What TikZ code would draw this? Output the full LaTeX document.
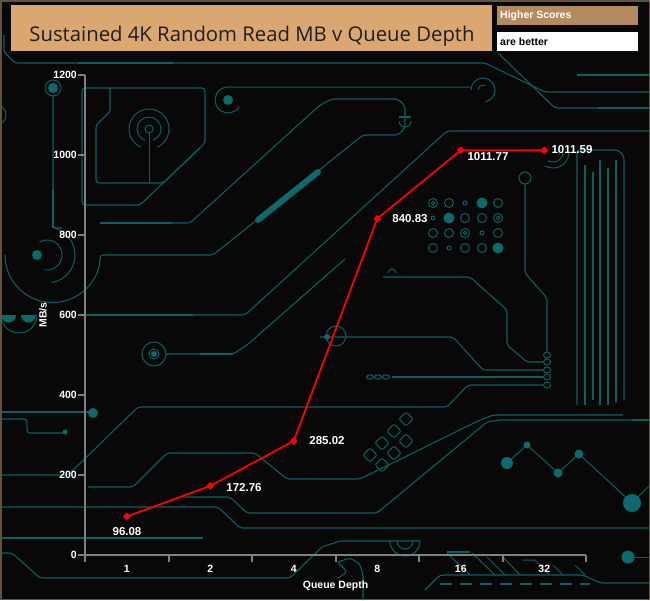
\documentclass[tikz,border=0pt]{standalone}
\usepackage{fontspec}
\setmainfont{Liberation Sans}
\newfontfamily\titlefont{Open Sans}
\usetikzlibrary{shapes.geometric}
\definecolor{bgc}{RGB}{8,8,8}
\definecolor{trc}{RGB}{15,94,96}
\definecolor{trf}{RGB}{13,106,108}
\definecolor{titlebg}{RGB}{219,167,112}
\definecolor{legbg}{RGB}{180,138,96}
\definecolor{axisc}{RGB}{128,128,128}
\definecolor{framec}{RGB}{100,82,62}
\definecolor{titletext}{RGB}{30,30,30}
\begin{document}
\begin{tikzpicture}[x=1pt,y=-1pt,
  tr/.style={draw=trc,line width=1.1pt,rounded corners=3pt},
  trk/.style={draw=trc,line width=2.5pt},
  ring/.style={draw=trc,line width=1pt},
  ticklbl/.style={text=white,font=\bfseries\fontsize{10.5}{12}\selectfont,inner sep=0pt},
  vallbl/.style={text=white,font=\bfseries\fontsize{11.5}{13}\selectfont,inner sep=0pt},
  axisline/.style={draw=axisc,line width=2.4pt},
  tickline/.style={draw=axisc,line width=2pt},
  datapt/.style={diamond,fill=red,inner sep=0pt,minimum width=8pt,minimum height=8pt},
  dataline/.style={draw=red,line width=1.8pt}]
\fill[bgc] (0,0) rectangle (650,600);
\useasboundingbox (0,0) rectangle (650,600);

% ---------------- circuit background ----------------
\draw[tr] (4,35)--(4,52)--(15,63)--(485,63)--(545,92)--(650,92);
\draw[trk,line width=2pt] (78,63)--(173,63);
\draw[tr] (498,53)--(555,108)--(650,108);
\draw[trk] (598,108)--(650,108);
\draw[tr] (577,75)--(650,75);
\fill[trf] (228,100) circle[radius=5];
\draw[ring] (228,100) ++(30:13) arc[start angle=30,end angle=270,radius=13] -- (470,87);
\draw[ring] (483,90) ++(180:12) arc[start angle=180,end angle=440,radius=12];
\draw[ring] (483,90) ++(180:5) arc[start angle=180,end angle=300,radius=5];
\draw[ring] (53,88) circle[radius=8];
\fill[trf] (53,88) circle[radius=5];
\draw[tr] (53,96)--(53,228)--(62,228);
\draw[trk,line width=2pt] (53,190)--(53,228);
\fill[trf] (37,255) circle[radius=5];
\draw[ring] (47,255) ++(-80:28) arc[start angle=-80,end angle=80,radius=28];
\draw[ring] (47,255) ++(-120:15) arc[start angle=-120,end angle=100,radius=15];
\draw[tr] (5,255) arc[start angle=180,end angle=0,radius=47.5] -- (213,255) -- (363,135) -- (398,135) -- (405,128) -- (405,106) -- (398,99) -- (332,99) -- (320,105) -- (190,223) -- (100,223);
\draw[trk,line width=2pt] (100,223)--(172,223);
\draw[tr] (399,117)--(411,117);
\draw[ring] (399,121) arc[start angle=180,end angle=0,radius=6];
\draw[draw=trf,line width=6pt,line cap=round] (258,220)--(318,172);
\draw[tr] (82,88)--(205,88)--(205,143)--(140,205)--(82,205)--cycle;
\draw[tr] (110,88)--(110,112)--(96,125)--(96,183)--(163,183)--(200,148);
\draw[ring] (149,129) circle[radius=4];
\draw[ring] (149,129) ++(110:12) arc[start angle=110,end angle=430,radius=12];
\draw[ring] (149,129) ++(115:20) arc[start angle=115,end angle=425,radius=20];
\draw[ring] (149,133)--(149,183);
\draw[ring] (-4,115) circle[radius=10];
\fill[trf] (1,315) arc[start angle=180,end angle=0,radius=7.5] -- cycle;
\fill[trf] (21,315) arc[start angle=180,end angle=0,radius=7.5] -- cycle;
\draw[ring] (1,315) arc[start angle=180,end angle=0,radius=18];
\draw[tr] (82,315)--(245,315)--(447,131)--(650,131);
\draw[trk] (82,315)--(193,315);
\draw[tr] (166,354)--(233,354)--(247,345)--(345,259);
\draw[trk,line width=2pt] (200,354)--(233,354);
\draw[ring] (154,354) circle[radius=12];
\draw[ring] (154,354) circle[radius=5];
\fill[trf] (154,354) circle[radius=3];
\draw[tr] (0,412)--(93,412);
\draw[trk] (0,412)--(35,412);
\fill[trf] (93,413) circle[radius=5];
\draw[tr] (0,419)--(27,419)--(27,433)--(65,433);
\fill[trf] (65,432) circle[radius=2.5];
\draw[tr] (0,475)--(68,475)--(138,407)--(447,407)--(468,385)--(543,385);
\draw[tr] (88,487)--(133,487)--(167,453)--(255,453)--(287,479)--(360,479)--(480,420)--(493,415)--(623,415);
\draw[tr] (183,497)--(230,497)--(247,513)--(377,513)--(487,422)--(500,420)--(650,420);
\draw[trk] (632,420)--(650,420);
\draw[tr] (0,507)--(218,507)--(240,528)--(650,528);
\draw[tr] (0,538)--(203,538);
\draw[tr] (0,553)--(12,553)--(40,578)--(290,578)--(322,547)--(340,541)--(420,541);
\draw[ring] (390,541) arc[start angle=180,end angle=0,radius=15];
\draw[ring] (397,541) arc[start angle=180,end angle=0,radius=8];
\draw[tr] (338,562)--(350,558)--(360,564)--(363,575)--(363,600);
\draw[tr] (338,562)--(347,572)--(338,578);
\foreach \cx/\cy in {370/455,382/443,394/431,406/419,382/465,394/453,406/441}
  \draw[ring,rounded corners=2pt,rotate around={45:(\cx,\cy)}] (\cx-5,\cy-5) rectangle (\cx+5,\cy+5);
\draw[tr] (320,337)--(453,337)--(483,370)--(543,370);
\fill[trf] (327,337) circle[radius=3];
\draw[ring] (336,336) circle[radius=10];
\draw[tr] (392,377)--(543,377);
\foreach \x in {370,378,386} \draw[ring] (\x,377) ellipse[x radius=3.5,y radius=2.2];
\foreach \y in {355,362,370,377,385} \draw[ring] (547,\y) ellipse[x radius=3.5,y radius=3];
\draw[tr] (383,277)--(470,277)--(507,310)--(507,345)--(527,362)--(543,362);
\draw[ring] (388,273) arc[start angle=180,end angle=360,radius=4];
\draw[ring] (525,178) circle[radius=6];
\draw[tr] (525,184)--(525,273)--(547,298)--(547,351);
\draw[ring] (553,152) ++(0:10) arc[start angle=0,end angle=120,radius=10];
\draw[ring] (553,152) ++(0:16) arc[start angle=0,end angle=120,radius=16];
\foreach \x/\y in {449/203,498/203,465/218,482/218,433/233,449/233,498/233,433/248,465/248,482/248,433/203,498/218,465/233}
  \draw[ring] (\x,\y) circle[radius=4.5];
\foreach \x/\y in {433/203,498/218,465/233}
  \draw[ring] (\x,\y) circle[radius=1.8];
\foreach \x/\y in {465/203,433/218,482/233,449/248}
  \draw[ring] (\x,\y) circle[radius=2];
\foreach \x/\y in {482/203,449/218,498/248}
  \fill[trf] (\x,\y) circle[radius=5.5];
\draw[tr] (577,405)--(577,150)--(618,150)--(624,156)--(624,400);
\foreach \x/\a/\b in {585/165/405,593/172/400,600/160/405,608/168/405,616/160/402}
  \draw[tr] (\x,\a)--(\x,\b);
\draw[ring] (507,463)--(527,445)--(558,473)--(579,454)--(632,503)--(650,485);
\fill[trf] (507,463) circle[radius=6];
\fill[trf] (527,445) circle[radius=3.5];
\fill[trf] (558,473) circle[radius=4.5];
\fill[trf] (579,454) circle[radius=4.5];
\fill[trf] (632,503) circle[radius=9];
\fill[trf] (628,557) circle[radius=6.5];
\draw[ring] (628,557)--(650,557);
\draw[tr] (425,590)--(440,575)--(583,575)--(600,583)--(650,583);
\draw[trk] (447,552)--(470,552);
\draw[ring] (447,553)--(470,575);
\draw[ring] (472,553)--(495,575);
\draw[ring] (487,557)--(505,575);
\draw[ring] (503,557)--(520,575);
\draw[ring] (522,560)--(535,560)--(550,575);
\draw[ring] (553,565)--(563,575);
\draw[ring] (575,565)--(585,575);
\draw[draw=trc,line width=1.2pt,dash pattern=on 12pt off 8pt] (440,584)--(590,584);

% ---------------- title and legend ----------------
\node[fill=titlebg,anchor=north west,minimum width=481pt,minimum height=46pt,inner sep=0pt] (titlebox) at (11,5) {};
\node[text=titletext,font=\titlefont\fontsize{20.3}{23}\selectfont,anchor=base,inner sep=0pt] (title) at (252,41) {Sustained 4K Random Read MB v Queue Depth};
\node[fill=legbg,anchor=north west,minimum width=141pt,minimum height=19pt,inner sep=0pt] (legA) at (497,6) {};
\node[text=white,font=\bfseries\fontsize{10.5}{12}\selectfont,anchor=west,inner sep=0pt] (legAt) at (500,16) {Higher Scores};
\node[fill=white,anchor=north west,minimum width=141pt,minimum height=19pt,inner sep=0pt] (legB) at (497,32) {};
\node[text=black,font=\bfseries\fontsize{10.5}{12}\selectfont,anchor=west,inner sep=0pt] (legBt) at (500,42) {are better};

% ---------------- axes ----------------
\coordinate (ytop) at (85,75);
\coordinate (orig) at (85,555);
\coordinate (xend) at (586,555);
\draw[axisline] (ytop)--(orig)--(xend);
\foreach \v in {0,200,...,1200} {
  \draw[tickline] (78,{555-0.4*\v})--(85,{555-0.4*\v});
  \node[ticklbl,anchor=east] (yl\v) at (77,{555-0.4*\v}) {\v};
}
\foreach \i in {0,...,6}
  \draw[tickline] ({85+83.5*\i},555)--({85+83.5*\i},562);
\foreach \l [count=\i from 0] in {1,2,4,8,16,32}
  \node[ticklbl] (xl\i) at ({126.75+83.5*\i},569) {\l};
\node[ticklbl] (xtitle) at (335.5,586) {Queue Depth};
\node[ticklbl,rotate=90] (ytitle) at (43,315) {MB/s};

% ---------------- data ----------------
\coordinate (c1) at (126.75,516.57);
\coordinate (c2) at (210.25,485.90);
\coordinate (c3) at (293.75,440.99);
\coordinate (c4) at (377.25,218.67);
\coordinate (c5) at (460.75,150.29);
\coordinate (c6) at (544.25,150.36);
\draw[dataline] (c1)--(c2)--(c3)--(c4)--(c5)--(c6);
\foreach \k in {1,...,6} \node[datapt] (p\k) at (c\k) {};
\node[vallbl] (v1) at (127,532) {96.08};
\node[vallbl] (v2) at (244,488) {172.76};
\node[vallbl] (v3) at (327,441) {285.02};
\node[vallbl] (v4) at (410,219) {840.83};
\node[vallbl] (v5) at (488,157) {1011.77};
\node[vallbl] (v6) at (572,150) {1011.59};

\draw[framec,line width=1.5pt] (0.75,0.75) rectangle (649.25,599.25);
\end{tikzpicture}
\end{document}
